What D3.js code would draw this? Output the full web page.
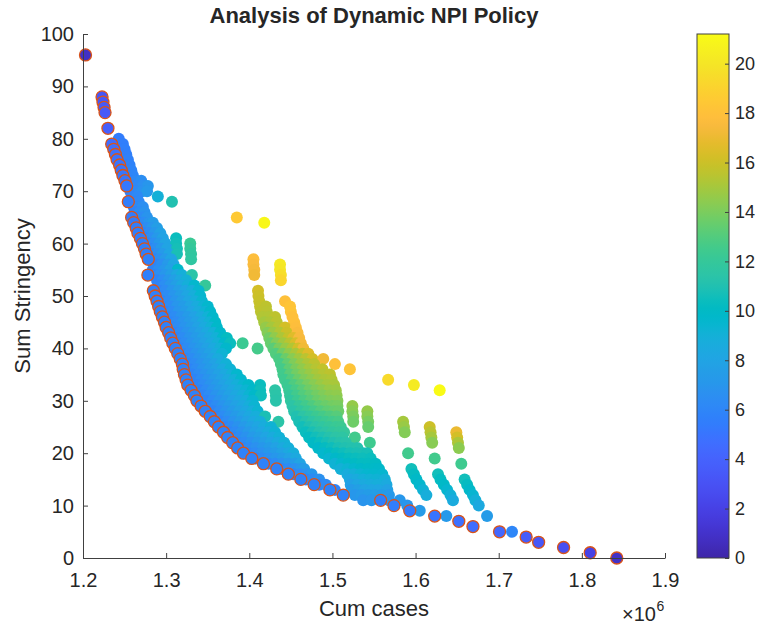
<!DOCTYPE html>
<html>
<head>
<meta charset="utf-8">
<script src="https://cdn.jsdelivr.net/npm/d3@7"></script>
<style>
  body { margin: 0; background: #fff; }
  text { font-family: "Liberation Sans", Arial, Helvetica, sans-serif; fill: #262626; }
</style>
</head>
<body>
<svg></svg>
<script>
// ---- data: [cum cases (x1e6), sum stringency, colour value] ----

// optimal frontier (drawn with the orange edge)
let frontierPoints = [
  [1.2030,96,0.8],
  [1.2229,88,3.2],[1.2240,87,3.3],[1.2253,86,3.4],[1.2265,85,3.5],
  [1.2300,82,3.8],
  [1.2345,79,4.6],[1.2370,78,4.7],[1.2390,77,4.8],[1.2410,76,4.9],[1.2440,75,5.0],
  [1.2460,74,5.0],[1.2480,73,5.1],[1.2505,72,5.1],[1.2525,71,5.2],
  [1.2545,68,5.5],
  [1.2585,65,5.4],[1.2610,64,5.4],[1.2640,63,5.5],[1.2660,62,5.5],[1.2690,61,5.5],
  [1.2715,60,5.6],[1.2740,59,5.6],[1.2760,58,5.6],[1.2785,57,5.7],
  [1.2780,54,5.6],
  [1.2846,51,5.7],[1.2868,50,5.7],[1.2890,49,5.7],[1.2910,48,5.7],[1.2930,47,5.7],
  [1.2955,46,5.7],[1.2980,45,5.7],[1.3000,44,5.7],[1.3030,43,5.7],[1.3055,42,5.7],
  [1.3080,41,5.8],[1.3110,40,5.8],[1.3140,39,5.8],[1.3170,38,5.8],[1.3195,37,5.8],
  [1.3205,36,5.8],[1.3220,35,5.8],[1.3240,34,5.8],[1.3260,33,5.8],[1.3300,32,5.8],
  [1.3340,31,5.8],[1.3370,30,5.8],[1.3420,29,5.8],[1.3470,28,5.8],[1.3530,27,5.8],
  [1.3580,26,5.8],[1.3630,25,5.8],[1.3690,24,5.8],[1.3740,23,5.8],[1.3800,22,5.8],
  [1.3860,21,5.8],[1.3930,20,5.8],[1.4030,19,5.8],[1.4170,18,5.8],[1.4330,17,5.8],
  [1.4470,16,5.8],[1.4620,15,5.8],[1.4780,14,5.8],[1.4970,13,5.8],[1.5130,12,5.8],
  [1.5580,11,5.6],[1.5740,10,5.5],[1.5930,9,5.3],[1.6230,8,5.0],[1.6520,7,4.8],
  [1.6690,6,4.6],[1.7010,5,4.3],[1.7330,4,3.6],[1.7480,3,3.3],[1.7780,2,2.8],
  [1.8100,1,2.0],[1.8420,0,0.9]
]

// main blue / cyan cloud next to the frontier
let bandA = [
  [1.243,80,5.4],
  [1.242,79,5.3],[1.248,79,5.5],
  [1.244,78,5.4],[1.250,78,5.6],
  [1.246,77,5.4],[1.252,77,5.6],
  [1.248,76,5.5],[1.254,76,5.7],
  [1.250,75,5.5],[1.256,75,5.8],
  [1.252,74,5.6],[1.258,74,5.9],
  [1.254,73,5.6],[1.260,73,6.0],
  [1.256,72,5.7],[1.263,72,6.1],[1.270,72,6.5],
  [1.258,71,5.7],[1.265,71,6.1],[1.272,71,6.6],[1.278,71,7.0],
  [1.257,70,5.8],[1.264,70,6.2],[1.271,70,6.7],[1.277,70,7.2],
  [1.259,69,5.8],[1.265,69,6.2],[1.290,69,9.0],
  [1.261,68,5.8],[1.267,68,6.2],[1.307,68,11.0],
  [1.261,67,5.8],[1.267,67,6.2],[1.272,67,6.6],
  [1.262,66,5.8],[1.268,66,6.3],[1.274,66,6.8],
  [1.265,65,5.8],[1.271,65,6.3],[1.277,65,6.9],
  [1.267,64,5.8],[1.273,64,6.3],[1.279,64,6.9],[1.284,64,7.4],
  [1.270,63,5.8],[1.277,63,6.4],[1.283,63,7.0],[1.289,63,7.6],
  [1.272,62,5.8],[1.279,62,6.4],[1.286,62,7.1],[1.293,62,7.8],
  [1.275,61,5.8],[1.282,61,6.5],[1.289,61,7.2],[1.296,61,7.9],[1.312,61,10.4],
  [1.278,60,5.9],[1.285,60,6.5],[1.292,60,7.2],[1.299,60,8.0],[1.312,60,10.6],[1.329,60,12.2],
  [1.280,59,5.9],[1.287,59,6.5],[1.294,59,7.2],[1.301,59,8.0],[1.313,59,10.7],[1.329,59,12.0],
  [1.282,58,5.9],[1.289,58,6.6],[1.296,58,7.3],[1.304,58,8.1],[1.313,58,10.8],[1.330,58,11.8],
  [1.285,57,5.9],[1.292,57,6.6],[1.299,57,7.3],[1.306,57,8.1],[1.330,57,11.7],
  [1.288,56,5.9],[1.295,56,6.6],[1.302,56,7.3],[1.309,56,8.2],
  [1.284,55,5.9],[1.291,55,6.5],[1.298,55,7.1],[1.305,55,7.8],[1.314,55,9.8],
  [1.285,54,5.9],[1.292,54,6.5],[1.299,54,7.1],[1.306,54,7.7],[1.313,54,8.3],[1.319,54,8.9],[1.331,54,11.4],
  [1.289,53,5.9],[1.296,53,6.5],[1.303,53,7.1],[1.310,53,7.7],[1.317,53,8.3],[1.324,53,9.0],
  [1.291,52,5.9],[1.298,52,6.5],[1.305,52,7.1],[1.312,52,7.7],[1.319,52,8.3],[1.326,52,8.9],[1.334,52,9.6],[1.347,52,12.0],
  [1.291,51,5.9],[1.299,51,6.4],[1.307,51,7.0],[1.315,51,7.6],[1.323,51,8.2],[1.331,51,8.8],[1.339,51,9.5],
  [1.293,50,5.9],[1.301,50,6.4],[1.309,50,7.0],[1.317,50,7.6],[1.325,50,8.2],[1.333,50,8.8],[1.341,50,9.5],
  [1.295,49,5.9],[1.303,49,6.4],[1.311,49,7.0],[1.319,49,7.6],[1.327,49,8.2],[1.335,49,8.8],[1.343,49,9.4],
  [1.297,48,5.9],[1.305,48,6.4],[1.313,48,7.0],[1.321,48,7.5],[1.329,48,8.0],[1.337,48,8.6],[1.345,48,9.2],[1.350,48,9.6],
  [1.299,47,5.9],[1.307,47,6.4],[1.315,47,7.0],[1.323,47,7.5],[1.331,47,8.0],[1.339,47,8.6],[1.347,47,9.2],[1.353,47,9.7],
  [1.302,46,5.9],[1.310,46,6.4],[1.318,46,6.9],[1.326,46,7.4],[1.334,46,7.9],[1.342,46,8.5],[1.350,46,9.1],[1.356,46,9.7],
  [1.304,45,5.9],[1.312,45,6.4],[1.320,45,6.9],[1.328,45,7.4],[1.336,45,7.9],[1.344,45,8.5],[1.352,45,9.1],[1.359,45,9.8],
  [1.306,44,5.9],[1.314,44,6.4],[1.322,44,6.9],[1.330,44,7.4],[1.338,44,7.9],[1.346,44,8.5],[1.354,44,9.1],[1.361,44,9.8],
  [1.309,43,5.9],[1.317,43,6.4],[1.325,43,6.9],[1.333,43,7.4],[1.341,43,7.9],[1.349,43,8.4],[1.357,43,9.0],[1.365,43,9.7],
  [1.312,42,5.9],[1.320,42,6.4],[1.328,42,6.9],[1.336,42,7.4],[1.344,42,7.9],[1.352,42,8.4],[1.360,42,9.0],[1.368,42,9.7],[1.373,42,10.2],
  [1.314,41,5.9],[1.322,41,6.4],[1.330,41,6.9],[1.338,41,7.4],[1.346,41,7.9],[1.354,41,8.4],[1.362,41,9.0],[1.370,41,9.7],[1.377,41,10.4],[1.392,41,12.3],
  [1.317,40,5.9],[1.325,40,6.4],[1.333,40,6.9],[1.341,40,7.4],[1.349,40,7.9],[1.357,40,8.4],[1.365,40,9.0],[1.372,40,9.7],[1.410,40,12.6],
  [1.320,39,5.9],[1.328,39,6.4],[1.336,39,6.9],[1.344,39,7.4],[1.352,39,7.9],[1.360,39,8.5],[1.367,39,9.2],
  [1.323,38,5.9],[1.331,38,6.4],[1.339,38,6.9],[1.347,38,7.4],[1.355,38,7.9],[1.362,38,8.6],
  [1.326,37,5.9],[1.334,37,6.4],[1.342,37,6.9],[1.350,37,7.4],[1.358,37,7.9],[1.366,37,8.5],[1.372,37,9.1],
  [1.328,36,5.9],[1.336,36,6.4],[1.344,36,6.9],[1.352,36,7.4],[1.360,36,7.9],[1.368,36,8.5],[1.377,36,9.2],
  [1.331,35,5.9],[1.339,35,6.4],[1.347,35,6.9],[1.355,35,7.4],[1.363,35,7.9],[1.371,35,8.4],[1.379,35,9.0],[1.385,35,9.6],
  [1.334,34,5.9],[1.342,34,6.4],[1.350,34,6.9],[1.358,34,7.4],[1.366,34,7.9],[1.374,34,8.4],[1.382,34,9.0],[1.390,34,9.6],
  [1.337,33,5.9],[1.345,33,6.4],[1.353,33,6.9],[1.361,33,7.4],[1.369,33,7.9],[1.377,33,8.4],[1.385,33,8.9],[1.393,33,9.4],[1.399,33,9.8],[1.413,33,10.4],
  [1.340,32,5.9],[1.348,32,6.4],[1.356,32,6.9],[1.364,32,7.4],[1.372,32,7.9],[1.380,32,8.3],[1.388,32,8.8],[1.396,32,9.3],[1.404,32,9.8],[1.413,32,10.5],[1.431,32,11.5],
  [1.344,31,5.9],[1.352,31,6.4],[1.360,31,6.9],[1.368,31,7.4],[1.376,31,7.9],[1.384,31,8.3],[1.392,31,8.8],[1.400,31,9.3],[1.406,31,9.8],[1.414,31,10.5],[1.432,31,11.4],
  [1.348,30,5.9],[1.356,30,6.4],[1.364,30,6.9],[1.372,30,7.4],[1.380,30,7.9],[1.388,30,8.3],[1.396,30,8.8],[1.404,30,9.4],[1.432,30,11.3],
  [1.352,29,5.9],[1.360,29,6.4],[1.368,29,6.9],[1.376,29,7.4],[1.384,29,7.9],[1.392,29,8.3],[1.400,29,8.8],[1.406,29,9.3],
  [1.356,28,5.9],[1.364,28,6.4],[1.372,28,6.9],[1.380,28,7.4],[1.388,28,7.9],[1.396,28,8.3],[1.404,28,8.8],[1.410,28,9.3],
  [1.360,27,5.9],[1.368,27,6.4],[1.376,27,6.9],[1.384,27,7.4],[1.392,27,7.9],[1.400,27,8.3],[1.408,27,8.8],[1.419,27,10.8],
  [1.365,26,5.9],[1.373,26,6.4],[1.381,26,6.9],[1.389,26,7.4],[1.397,26,7.9],[1.405,26,8.3],[1.413,26,8.8],[1.435,26,11.4],
  [1.370,25,5.9],[1.378,25,6.3],[1.386,25,6.8],[1.394,25,7.3],[1.402,25,7.8],[1.410,25,8.2],[1.418,25,8.7],[1.426,25,9.2],
  [1.375,24,5.9],[1.383,24,6.3],[1.391,24,6.8],[1.399,24,7.3],[1.407,24,7.8],[1.415,24,8.2],[1.423,24,8.7],[1.431,24,9.2],
  [1.380,23,5.9],[1.388,23,6.3],[1.396,23,6.8],[1.404,23,7.3],[1.412,23,7.7],[1.420,23,8.1],[1.428,23,8.6],[1.436,23,9.1],
  [1.386,22,5.9],[1.394,22,6.3],[1.402,22,6.8],[1.410,22,7.2],[1.418,22,7.6],[1.426,22,8.0],[1.434,22,8.5],[1.442,22,9.0],
  [1.392,21,5.9],[1.400,21,6.3],[1.408,21,6.7],[1.416,21,7.1],[1.424,21,7.5],[1.432,21,7.9],[1.440,21,8.4],[1.447,21,8.9],
  [1.399,20,5.9],[1.407,20,6.3],[1.415,20,6.7],[1.423,20,7.1],[1.431,20,7.5],[1.439,20,7.9],[1.447,20,8.3],[1.453,20,8.8],
  [1.408,19,5.9],[1.416,19,6.3],[1.424,19,6.7],[1.432,19,7.1],[1.440,19,7.5],[1.448,19,7.9],[1.456,19,8.4],
  [1.423,18,5.9],[1.431,18,6.3],[1.439,18,6.7],[1.447,18,7.1],[1.455,18,7.5],[1.461,18,8.0],
  [1.439,17,5.9],[1.447,17,6.3],[1.455,17,6.7],[1.462,17,7.1],[1.466,17,7.5],
  [1.453,16,5.9],[1.461,16,6.3],[1.469,16,6.7],[1.475,16,7.1],
  [1.468,15,5.9],[1.476,15,6.3],[1.484,15,6.7],
  [1.484,14,5.9],[1.492,14,6.3],
  [1.503,13,5.9]
]

// green / yellow cloud in the middle
let bandB = [
  [1.4105,51,16.2],
  [1.411,50,16.0],
  [1.412,49,15.9],[1.443,49,18.0],
  [1.413,48,15.8],[1.420,48,15.6],[1.449,48,18.2],
  [1.414,47,15.6],[1.421,47,15.5],[1.450,47,18.2],
  [1.416,46,15.3],[1.423,46,15.3],[1.431,46,15.6],[1.452,46,18.0],
  [1.418,45,15.0],[1.425,45,15.2],[1.433,45,15.5],[1.454,45,18.0],
  [1.420,44,14.6],[1.427,44,15.0],[1.435,44,15.4],[1.443,44,16.2],[1.456,44,17.8],
  [1.422,43,14.2],[1.429,43,14.8],[1.437,43,15.3],[1.445,43,16.0],[1.458,43,17.6],
  [1.424,42,13.8],[1.431,42,14.5],[1.439,42,15.2],[1.447,42,15.8],[1.453,42,16.6],[1.460,42,17.5],
  [1.426,41,13.5],[1.433,41,14.2],[1.441,41,14.9],[1.449,41,15.5],[1.456,41,16.4],[1.462,41,17.4],
  [1.429,40,13.2],[1.436,40,14.0],[1.444,40,14.7],[1.452,40,15.3],[1.459,40,16.2],[1.465,40,17.2],
  [1.432,39,13.0],[1.440,39,13.8],[1.448,39,14.5],[1.456,39,15.1],[1.464,39,15.8],[1.471,39,16.6],
  [1.436,38,12.8],[1.444,38,13.6],[1.452,38,14.3],[1.460,38,14.9],[1.468,38,15.5],[1.476,38,16.2],[1.489,38,17.2],
  [1.438,37,12.7],[1.446,37,13.4],[1.454,37,14.1],[1.462,37,14.7],[1.470,37,15.2],[1.478,37,15.6],[1.503,37,18.0],
  [1.440,36,12.6],[1.448,36,13.3],[1.456,36,14.0],[1.464,36,14.5],[1.472,36,15.0],[1.480,36,15.4],[1.488,36,15.7],[1.521,36,18.2],
  [1.441,35,12.5],[1.449,35,13.2],[1.457,35,13.8],[1.465,35,14.3],[1.473,35,14.7],[1.481,35,15.1],[1.489,35,15.4],[1.497,35,15.6],
  [1.443,34,12.4],[1.451,34,13.0],[1.459,34,13.6],[1.467,34,14.1],[1.475,34,14.5],[1.483,34,14.9],[1.491,34,15.2],[1.499,34,15.3],[1.567,34,19.4],
  [1.446,33,12.3],[1.454,33,12.9],[1.462,33,13.4],[1.470,33,13.9],[1.478,33,14.3],[1.486,33,14.7],[1.494,33,15.0],[1.502,33,15.1],[1.598,33,20.3],
  [1.448,32,12.2],[1.456,32,12.7],[1.464,32,13.2],[1.472,32,13.7],[1.480,32,14.1],[1.488,32,14.4],[1.496,32,14.7],[1.504,32,14.8],[1.629,32,21.2],
  [1.449,31,12.0],[1.457,31,12.5],[1.465,31,13.0],[1.473,31,13.4],[1.481,31,13.8],[1.489,31,14.1],[1.497,31,14.4],[1.505,31,14.5],
  [1.450,30,11.8],[1.458,30,12.3],[1.466,30,12.8],[1.474,30,13.2],[1.482,30,13.6],[1.490,30,13.9],[1.498,30,14.1],[1.506,30,14.2],
  [1.452,29,11.5],[1.460,29,12.0],[1.468,29,12.5],[1.476,29,12.9],[1.484,29,13.3],[1.492,29,13.6],[1.500,29,13.8],[1.506,29,13.9],[1.524,29,14.6],
  [1.454,28,11.3],[1.462,28,11.8],[1.470,28,12.2],[1.478,28,12.6],[1.486,28,13.0],[1.494,28,13.3],[1.502,28,13.5],[1.507,28,13.6],[1.524,28,14.3],[1.542,28,14.6],
  [1.457,27,11.0],[1.465,27,11.5],[1.473,27,11.9],[1.481,27,12.3],[1.489,27,12.6],[1.497,27,12.9],[1.505,27,13.1],[1.525,27,14.0],[1.542,27,14.3],
  [1.460,26,10.8],[1.468,26,11.2],[1.476,26,11.6],[1.484,26,12.0],[1.492,26,12.3],[1.500,26,12.5],[1.507,26,12.7],[1.525,26,13.7],[1.543,26,13.9],
  [1.464,25,10.6],[1.472,25,11.0],[1.480,25,11.4],[1.488,25,11.7],[1.496,25,12.0],[1.504,25,12.2],[1.510,25,12.3],[1.543,25,13.5],
  [1.468,24,10.4],[1.476,24,10.8],[1.484,24,11.2],[1.492,24,11.5],[1.500,24,11.8],[1.508,24,12.0],[1.514,24,12.0],
  [1.472,23,10.2],[1.480,23,10.6],[1.488,23,10.9],[1.496,23,11.2],[1.504,23,11.5],[1.512,23,11.6],[1.527,23,12.5],
  [1.477,22,10.0],[1.485,22,10.4],[1.493,22,10.7],[1.501,22,11.0],[1.509,22,11.2],[1.516,22,11.3],[1.545,22,12.4],
  [1.483,21,9.8],[1.491,21,10.2],[1.499,21,10.5],[1.507,21,10.8],[1.515,21,11.0],[1.523,21,11.1],[1.530,21,11.1],
  [1.489,20,9.6],[1.497,20,10.0],[1.505,20,10.3],[1.513,20,10.5],[1.521,20,10.7],[1.529,20,10.8],[1.537,20,10.8],[1.542,20,10.7],
  [1.496,19,9.4],[1.504,19,9.8],[1.512,19,10.1],[1.520,19,10.3],[1.528,19,10.4],[1.536,19,10.5],[1.546,19,10.4],
  [1.503,18,9.2],[1.511,18,9.6],[1.519,18,9.9],[1.527,18,10.1],[1.535,18,10.2],[1.543,18,10.2],[1.552,18,10.1],
  [1.510,17,9.0],[1.518,17,9.3],[1.526,17,9.6],[1.534,17,9.8],[1.542,17,9.9],[1.550,17,9.9],[1.556,17,9.8],
  [1.518,16,8.7],[1.526,16,9.0],[1.534,16,9.3],[1.542,16,9.5],[1.550,16,9.6],[1.560,16,9.5],
  [1.521,15,8.3],[1.529,15,8.6],[1.537,15,8.9],[1.545,15,9.1],[1.553,15,9.2],[1.563,15,9.0],
  [1.522,14,7.8],[1.530,14,8.2],[1.538,14,8.5],[1.546,14,8.7],[1.554,14,8.8],[1.565,14,8.5],
  [1.523,13,7.4],[1.531,13,7.7],[1.539,13,8.0],[1.547,13,8.2],[1.555,13,8.2],[1.566,13,7.9],
  [1.527,12,7.1],[1.535,12,7.3],[1.543,12,7.5],[1.551,12,7.6],[1.559,12,7.5],[1.568,12,7.3],
  [1.537,11,6.9],[1.547,11,7.0],[1.568,11,7.0],[1.581,11,7.1]
]

// three separate strands on the right and the blue tail
let bandC = [
  [1.585,26,15.0],[1.586,25,14.7],[1.587,24,14.2],[1.591,20,12.5],[1.595,17,10.6],
  [1.598,16,10.2],[1.601,15,9.9],[1.605,14,9.6],[1.609,13,9.2],[1.613,12,8.8],
  [1.617,25,16.0],[1.618,24,15.5],[1.619,23,15.0],[1.620,22,14.3],[1.623,19,12.5],
  [1.627,16,10.6],[1.630,15,10.2],[1.634,14,9.9],[1.638,13,9.5],[1.642,12,9.1],[1.645,11,8.6],
  [1.649,24,17.0],[1.650,23,16.2],[1.651,22,15.2],[1.652,21,14.4],[1.655,18,12.4],
  [1.659,15,10.6],[1.662,14,10.2],[1.665,13,9.8],[1.669,12,9.4],[1.672,11,9.0],[1.676,10,8.4],
  [1.590,10,7.0],[1.605,9,7.4],[1.637,8,7.2],[1.686,8,7.4],[1.716,5,6.0]
]

// isolated high-stringency points
let lonePoints = [
  [1.385,65,18.5],[1.418,64,21.0],
  [1.405,57,17.8],[1.405,56,17.6],[1.406,55,17.4],[1.406,54,17.2],
  [1.437,56,20.2],[1.437,55,20.0],[1.438,54,19.6],[1.438,53,19.2]
]

let xTicks = [1.2, 1.3, 1.4, 1.5, 1.6, 1.7, 1.8, 1.9]
let yTicks = [0, 10, 20, 30, 40, 50, 60, 70, 80, 90, 100]
let colorTicks = [0, 2, 4, 6, 8, 10, 12, 14, 16, 18, 20]
let colorMax = 21.2

// MATLAB parula colormap (64 steps)
const parula = [
  [0.2422,0.1504,0.6603],[0.2504,0.1650,0.7076],[0.2578,0.1818,0.7511],[0.2647,0.1978,0.7952],
  [0.2706,0.2147,0.8364],[0.2751,0.2342,0.8710],[0.2783,0.2559,0.8991],[0.2803,0.2782,0.9221],
  [0.2813,0.3006,0.9414],[0.2810,0.3228,0.9579],[0.2795,0.3447,0.9717],[0.2760,0.3667,0.9829],
  [0.2699,0.3892,0.9906],[0.2602,0.4123,0.9952],[0.2440,0.4358,0.9988],[0.2206,0.4603,0.9973],
  [0.1963,0.4847,0.9892],[0.1834,0.5074,0.9798],[0.1786,0.5289,0.9682],[0.1764,0.5499,0.9520],
  [0.1687,0.5703,0.9359],[0.1540,0.5902,0.9218],[0.1460,0.6091,0.9079],[0.1380,0.6276,0.8973],
  [0.1248,0.6459,0.8883],[0.1113,0.6635,0.8763],[0.0952,0.6798,0.8598],[0.0689,0.6948,0.8394],
  [0.0297,0.7082,0.8163],[0.0036,0.7203,0.7917],[0.0067,0.7312,0.7660],[0.0433,0.7411,0.7394],
  [0.0964,0.7500,0.7120],[0.1408,0.7584,0.6842],[0.1717,0.7670,0.6554],[0.1938,0.7758,0.6251],
  [0.2161,0.7843,0.5923],[0.2470,0.7918,0.5567],[0.2906,0.7973,0.5188],[0.3406,0.8008,0.4789],
  [0.3909,0.8029,0.4354],[0.4456,0.8024,0.3909],[0.5044,0.7993,0.3480],[0.5616,0.7942,0.3045],
  [0.6174,0.7876,0.2612],[0.6720,0.7793,0.2227],[0.7242,0.7698,0.1910],[0.7738,0.7598,0.1646],
  [0.8203,0.7498,0.1535],[0.8634,0.7406,0.1596],[0.9035,0.7330,0.1774],[0.9393,0.7288,0.2100],
  [0.9728,0.7298,0.2394],[0.9956,0.7434,0.2371],[0.9970,0.7659,0.2199],[0.9952,0.7893,0.2028],
  [0.9892,0.8136,0.1885],[0.9786,0.8386,0.1766],[0.9676,0.8639,0.1643],[0.9610,0.8890,0.1537],
  [0.9597,0.9135,0.1423],[0.9628,0.9373,0.1265],[0.9691,0.9606,0.1064],[0.9769,0.9839,0.0805]
].map(c => d3.rgb(c[0] * 255, c[1] * 255, c[2] * 255).formatHex())

let width = 757
let height = 626
let margin = { left: 83, right: 665, top: 34, bottom: 558 }
let bar = { x: 697, w: 32 }

let svg = d3.select('svg').attr('width', width).attr('height', height)

let xScale = d3.scaleLinear().domain([1.2, 1.9]).range([margin.left, margin.right])
let yScale = d3.scaleLinear().domain([0, 100]).range([margin.bottom, margin.top])
let colorScale = d3.scaleSequential(d3.piecewise(d3.interpolateRgb, parula)).domain([0, colorMax])
let barScale = d3.scaleLinear().domain([0, colorMax]).range([margin.bottom, margin.top])

// scatter cloud
let cloud = [...bandA, ...bandB, ...bandC, ...lonePoints]
svg.append('g')
   .selectAll('circle')
   .data(cloud)
   .enter()
   .append('circle')
   .attr('cx', d => xScale(d[0]))
   .attr('cy', d => yScale(d[1]))
   .attr('r', 6)
   .attr('fill', d => colorScale(d[2]))

// frontier with orange edge
svg.append('g')
   .selectAll('circle')
   .data(frontierPoints)
   .enter()
   .append('circle')
   .attr('cx', d => xScale(d[0]))
   .attr('cy', d => yScale(d[1]))
   .attr('r', 6)
   .attr('fill', d => colorScale(d[2]))
   .attr('stroke', '#d95319')
   .attr('stroke-width', 1.3)

// axes
const styleAxis = size => g => {
  g.selectAll('path, line').attr('stroke', '#404040').attr('stroke-width', 1)
  g.selectAll('text').attr('font-size', size).attr('fill', '#262626')
     .attr('font-family', '"Liberation Sans", Arial, sans-serif')
}

svg.append('g')
   .attr('transform', 'translate(0,' + margin.bottom + ')')
   .call(d3.axisBottom(xScale).tickValues(xTicks).tickFormat(d3.format('.1f'))
          .tickSize(-5).tickSizeOuter(0).tickPadding(15))
   .call(styleAxis(20))

svg.append('g')
   .attr('transform', 'translate(' + margin.left + ',0)')
   .call(d3.axisLeft(yScale).tickValues(yTicks).tickSize(-5).tickSizeOuter(0).tickPadding(9))
   .call(styleAxis(20))

// colorbar
let grad = svg.append('defs').append('linearGradient')
   .attr('id', 'parula').attr('x1', 0).attr('y1', 1).attr('x2', 0).attr('y2', 0)
grad.selectAll('stop').data(parula).enter().append('stop')
   .attr('offset', (d, i) => i / (parula.length - 1))
   .attr('stop-color', d => d)

svg.append('rect')
   .attr('x', bar.x).attr('y', margin.top)
   .attr('width', bar.w).attr('height', margin.bottom - margin.top)
   .attr('fill', 'url(#parula)')
   .attr('stroke', '#404040').attr('stroke-width', 1)

svg.append('g')
   .attr('transform', 'translate(' + (bar.x + bar.w) + ',0)')
   .call(d3.axisRight(barScale).tickValues(colorTicks).tickSize(-4).tickSizeOuter(0).tickPadding(6))
   .call(styleAxis(18))
   .call(g => g.select('.domain').remove())

// labels
svg.append('text')
   .attr('x', (margin.left + margin.right) / 2).attr('y', 23)
   .attr('text-anchor', 'middle').attr('font-size', 22).attr('font-weight', 'bold')
   .attr('fill', '#000')
   .text('Analysis of Dynamic NPI Policy')

svg.append('text')
   .attr('x', (margin.left + margin.right) / 2).attr('y', 616)
   .attr('text-anchor', 'middle').attr('font-size', 22)
   .text('Cum cases')

svg.append('text')
   .attr('transform', 'translate(30,' + (margin.top + margin.bottom) / 2 + ') rotate(-90)')
   .attr('text-anchor', 'middle').attr('font-size', 22)
   .text('Sum Stringency')

svg.append('text')
   .attr('x', 656).attr('y', 621).attr('text-anchor', 'end').attr('font-size', 20)
   .text('×10')
svg.append('text')
   .attr('x', 656.5).attr('y', 611).attr('font-size', 14)
   .text('6')
</script>
</body>
</html>
